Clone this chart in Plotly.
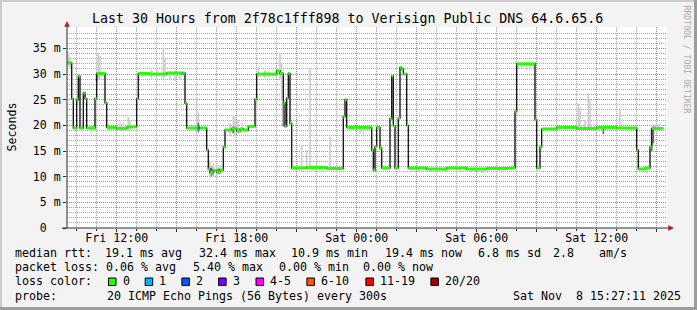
import plotly.graph_objects as go
import pandas as pd

# ---------------- data ----------------
title_text = "Last 30 Hours from 2f78c1fff898 to Verisign Public DNS 64.6.65.6"
x_start = "2025-11-07 09:31"
x_end = "2025-11-08 15:31"

# median RTT (ms), change points of the 5-minute samples
median_times = [
    "2025-11-07 09:31", "2025-11-07 09:45", "2025-11-07 09:50", "2025-11-07 10:00",
    "2025-11-07 10:05", "2025-11-07 10:10", "2025-11-07 10:20", "2025-11-07 10:25",
    "2025-11-07 10:30", "2025-11-07 10:55", "2025-11-07 11:00", "2025-11-07 11:25",
    "2025-11-07 11:30", "2025-11-07 12:00", "2025-11-07 12:30", "2025-11-07 13:00",
    "2025-11-07 13:05", "2025-11-07 13:40", "2025-11-07 14:30", "2025-11-07 15:25",
    "2025-11-07 15:30", "2025-11-07 16:30", "2025-11-07 16:35", "2025-11-07 16:40",
    "2025-11-07 16:50", "2025-11-07 17:00", "2025-11-07 17:10", "2025-11-07 17:20",
    "2025-11-07 17:25", "2025-11-07 17:45", "2025-11-07 18:00", "2025-11-07 18:10",
    "2025-11-07 18:20", "2025-11-07 18:35", "2025-11-07 18:55", "2025-11-07 19:00",
    "2025-11-07 20:00", "2025-11-07 20:10", "2025-11-07 20:20", "2025-11-07 20:25",
    "2025-11-07 20:30", "2025-11-07 20:35", "2025-11-07 20:40", "2025-11-07 20:45",
    "2025-11-07 21:30", "2025-11-07 22:30", "2025-11-07 23:20", "2025-11-07 23:25",
    "2025-11-07 23:30", "2025-11-08 00:45", "2025-11-08 00:50", "2025-11-08 00:55",
    "2025-11-08 01:00", "2025-11-08 01:10", "2025-11-08 01:15", "2025-11-08 01:40",
    "2025-11-08 01:45", "2025-11-08 01:50", "2025-11-08 01:55", "2025-11-08 02:05",
    "2025-11-08 02:10", "2025-11-08 02:15", "2025-11-08 02:20", "2025-11-08 02:30",
    "2025-11-08 02:35", "2025-11-08 03:30", "2025-11-08 04:30", "2025-11-08 05:30",
    "2025-11-08 06:30", "2025-11-08 07:30", "2025-11-08 07:55", "2025-11-08 08:00",
    "2025-11-08 08:55", "2025-11-08 09:00", "2025-11-08 09:10", "2025-11-08 09:15",
    "2025-11-08 10:00", "2025-11-08 11:00", "2025-11-08 12:00", "2025-11-08 13:00",
    "2025-11-08 14:00", "2025-11-08 14:05", "2025-11-08 14:25", "2025-11-08 14:40",
    "2025-11-08 14:45", "2025-11-08 15:20",
]
median_ms = [
    32.2, 25.2, 19.5, 25.0,
    29.6, 19.5, 26.3, 25.2,
    19.5, 25.2, 30.1, 24.4,
    19.6, 19.4, 19.7, 25.2,
    30.1, 30.0, 30.2, 24.3,
    19.5, 15.2, 11.5, 10.8,
    11.2, 10.9, 11.3, 15.8,
    19.1, 19.4, 18.9, 19.3,
    19.1, 19.8, 25.1, 30.0,
    30.6, 30.1, 24.4, 19.8,
    25.3, 30.1, 20.4, 11.7,
    11.8, 11.6, 21.7, 25.0,
    19.6, 15.2, 11.3, 15.9,
    19.6, 15.6, 11.7, 21.3,
    29.6, 19.9, 11.7, 21.4,
    31.3, 31.0, 30.0, 20.0,
    11.7, 11.5, 11.7, 11.5,
    11.6, 11.7, 22.7, 32.0,
    21.1, 11.7, 15.8, 19.3,
    19.6, 19.4, 19.6, 19.5,
    15.2, 11.5, 11.7, 15.8,
    19.4, 19.4,
]

# samples with packet loss (loss level index into loss legend)
loss_times = ["2025-11-07 15:15", "2025-11-07 16:00", "2025-11-07 16:05"]
loss_ms = [30.1, 19.5, 19.5]
loss_level = [1, 1, 2]

# smoke (spread of the 20 pings), light shade
smoke_times = [
    "2025-11-07 09:31", "2025-11-07 09:36", "2025-11-07 09:41", "2025-11-07 10:00",
    "2025-11-07 10:15", "2025-11-07 10:45", "2025-11-07 11:00", "2025-11-07 11:05",
    "2025-11-07 11:10", "2025-11-07 11:35", "2025-11-07 12:10", "2025-11-07 12:20",
    "2025-11-07 12:35", "2025-11-07 12:40", "2025-11-07 13:45", "2025-11-07 14:00",
    "2025-11-07 14:20", "2025-11-07 14:25", "2025-11-07 14:40", "2025-11-07 14:55",
    "2025-11-07 15:10", "2025-11-07 16:00", "2025-11-07 16:05", "2025-11-07 16:40",
    "2025-11-07 16:50", "2025-11-07 17:00", "2025-11-07 17:10", "2025-11-07 17:40",
    "2025-11-07 17:50", "2025-11-07 17:55", "2025-11-07 18:05", "2025-11-07 18:15",
    "2025-11-07 19:05", "2025-11-07 19:25", "2025-11-07 19:35", "2025-11-07 20:10",
    "2025-11-07 20:15", "2025-11-07 21:15", "2025-11-07 21:30", "2025-11-07 21:40",
    "2025-11-07 22:40", "2025-11-07 21:50", "2025-11-07 22:15", "2025-11-07 23:00",
    "2025-11-08 00:10", "2025-11-08 00:20", "2025-11-08 02:45", "2025-11-08 03:05",
    "2025-11-08 04:20", "2025-11-08 05:10", "2025-11-08 05:50", "2025-11-08 06:20",
    "2025-11-08 07:10", "2025-11-08 08:05", "2025-11-08 08:15", "2025-11-08 08:30",
    "2025-11-08 08:40", "2025-11-08 08:50", "2025-11-08 09:00", "2025-11-08 11:05",
    "2025-11-08 11:10", "2025-11-08 11:25", "2025-11-08 11:35", "2025-11-08 11:40",
    "2025-11-08 12:00", "2025-11-08 13:10", "2025-11-08 14:30", "2025-11-08 14:55",
    "2025-11-08 15:05",
]
smoke_lo = [
    31.5, 31.6, 31.0, 24.0,
    18.8, 18.6, 28.5, 28.8,
    29.0, 18.8, 18.8, 19.0,
    18.8, 19.0, 29.2, 28.7,
    29.0, 29.5, 29.0, 28.6,
    28.8, 19.0, 18.5, 9.8,
    10.0, 10.2, 10.5, 18.0,
    18.2, 17.8, 18.3, 18.4,
    29.4, 29.2, 29.4, 29.0,
    25.0, 11.3, 11.3, 11.5,
    11.5, 10.9, 10.8, 10.9,
    18.3, 18.2, 10.8, 10.9,
    10.8, 10.8, 10.9, 10.7,
    10.9, 31.0, 31.2, 30.9,
    31.1, 31.3, 10.9, 19.3,
    19.3, 19.3, 19.2, 19.3,
    18.5, 19.3, 10.6, 18.8,
    19.0,
]
smoke_hi = [
    34.4, 33.8, 33.0, 26.5,
    20.2, 20.0, 33.0, 34.1,
    33.5, 20.3, 20.6, 20.5,
    21.7, 21.0, 30.8, 31.0,
    35.0, 33.0, 30.6, 30.7,
    30.5, 25.6, 22.5, 12.8,
    12.5, 12.0, 12.2, 20.5,
    22.0, 21.5, 21.0, 20.5,
    31.4, 30.8, 30.6, 34.0,
    32.0, 16.2, 15.2, 31.1,
    17.8, 11.8, 11.8, 11.8,
    19.8, 19.7, 11.7, 11.8,
    11.7, 11.7, 11.8, 11.7,
    11.7, 32.0, 32.0, 32.0,
    32.0, 32.0, 11.8, 24.3,
    23.5, 21.1, 26.3, 25.0,
    20.8, 23.0, 11.6, 20.2,
    20.2,
]

# smoke, dark shade (most pings)
dsmoke_times = [
    "2025-11-07 11:00", "2025-11-07 16:05", "2025-11-07 16:45", "2025-11-07 17:05",
    "2025-11-07 17:50", "2025-11-07 20:20", "2025-11-08 12:20", "2025-11-08 14:45",
    "2025-11-08 14:50",
]
dsmoke_lo = [28.6, 18.8, 10.2, 10.5, 18.5, 19.8, 18.3, 15.0, 16.5]
dsmoke_hi = [30.0, 20.5, 11.8, 11.6, 19.8, 24.4, 19.6, 19.4, 19.8]

# axis ticks
y_tickvals = [0, 5, 10, 15, 20, 25, 30, 35]
y_ticktext = ["0\u00a0\u00a0", "5\u00a0m", "10\u00a0m", "15\u00a0m", "20\u00a0m",
              "25\u00a0m", "30\u00a0m", "35\u00a0m"]
x_tickvals = [
    "2025-11-07 12:00", "2025-11-07 15:00", "2025-11-07 18:00", "2025-11-07 21:00",
    "2025-11-08 00:00", "2025-11-08 03:00", "2025-11-08 06:00", "2025-11-08 09:00",
    "2025-11-08 12:00", "2025-11-08 15:00",
]
x_ticktext = ["Fri 12:00", "", "Fri 18:00", "", "Sat 00:00", "", "Sat 06:00", "",
              "Sat 12:00", ""]

# legend text
rtt_label = "median rtt:"
rtt_stats = ["19.1 ms avg", "32.4 ms max", "10.9 ms min", "19.4 ms now", "6.8 ms sd",
             "2.8", "am/s"]
loss_label = "packet loss:"
loss_stats = ["0.06 % avg", "5.40 % max", "0.00 % min", "0.00 % now"]
loss_color_label = "loss color:"
loss_names = ["0", "1", "2", "3", "4-5", "6-10", "11-19", "20/20"]
probe_label = "probe:"
probe_text = "20 ICMP Echo Pings (56 Bytes) every 300s"
date_text = "Sat Nov  8 15:27:11 2025"
y_title = "Seconds"
watermark = "RRDTOOL / TOBI OETIKER"

# ---------------- styles / layout ----------------
W, H = 697, 310
L, R, T, B = 67, 30, 27, 82
PW = W - L - R
PH = H - T - B
Y_MAX = 39.17
MONO = "DejaVu Sans Mono"
FS = 11.63
loss_colors = ["#26ff00", "#00b8ff", "#0059ff", "#7e00ff", "#ff00ff", "#ff5500",
               "#ff0000", "#a10000"]
AXIS_C = "#2c2c2c"
ARROW_C = "#b02020"
GRID_GRAY = "#a6a6a6"
GRID_RED = "#e86a6a"
DASH = "1px,1px"


def px(x):
    return (x - L) / PW


def py(y):
    return (H - B - y) / PH


def nb(s):
    return s.replace(" ", "\u00a0")


SAMPLE_MS = 300000

fig = go.Figure()

# smoke
fig.add_trace(go.Bar(
    x=smoke_times, base=smoke_lo, y=[h - l for h, l in zip(smoke_hi, smoke_lo)],
    width=SAMPLE_MS, marker=dict(color="#cdcdcd", line=dict(width=0)),
    hoverinfo="skip", showlegend=False))
fig.add_trace(go.Bar(
    x=dsmoke_times, base=dsmoke_lo, y=[h - l for h, l in zip(dsmoke_hi, dsmoke_lo)],
    width=SAMPLE_MS, marker=dict(color="#6a6a6a", line=dict(width=0)),
    hoverinfo="skip", showlegend=False))

# median step line (black connectors)
fig.add_trace(go.Scatter(
    x=median_times, y=median_ms, mode="lines", line=dict(color="#1a1a1a", width=1.4, shape="hv"),
    hoverinfo="skip", showlegend=False))

# green horizontal pieces (loss 0)
gx, gy = [], []
for i in range(len(median_times) - 1):
    gx += [median_times[i], median_times[i + 1], None]
    gy += [median_ms[i], median_ms[i], None]
fig.add_trace(go.Scatter(
    x=gx, y=gy, mode="lines", line=dict(color=loss_colors[0], width=3),
    hoverinfo="skip", showlegend=False))

# loss-colored samples
for t, v, lv in zip(loss_times, loss_ms, loss_level):
    t0 = pd.Timestamp(t)
    fig.add_trace(go.Scatter(
        x=[t0, t0 + pd.Timedelta(milliseconds=SAMPLE_MS)], y=[v, v], mode="lines",
        line=dict(color=loss_colors[lv], width=3), hoverinfo="skip", showlegend=False))

ann = []
# title
ann.append(dict(text=nb(title_text), x=px(91.5), y=py(19), xanchor="left", yanchor="middle",
                font=dict(family=MONO, size=13.27, color="#000")))
# y title
ann.append(dict(text=y_title, x=px(11.5), y=py(127), xanchor="center", yanchor="middle",
                textangle=-90, font=dict(family=MONO, size=FS, color="#000")))
# watermark
ann.append(dict(text=nb(watermark), x=px(686.5), y=py(59), xanchor="center", yanchor="middle",
                textangle=90, font=dict(family=MONO, size=8.17, color="#aaaaaa")))

ROWS = [253, 267.2, 281.3, 295.5]
row1_x = [105.4, 199.2, 291.4, 385.2, 477.6, 552.6, 599.3]
row2_x = [106.1, 192.6, 278.7, 363.4]
box_x = [108.5, 145.2, 181.9, 218.6, 256.0, 306.9, 365.9, 430.9]


def label(text, x, y, anchor="left"):
    ann.append(dict(text=nb(text), x=px(x), y=py(y), xanchor=anchor, yanchor="middle",
                    font=dict(family=MONO, size=FS, color="#000")))


label(rtt_label, 15.4, ROWS[0])
for s, x in zip(rtt_stats, row1_x):
    label(s, x, ROWS[0])
label(loss_label, 15.4, ROWS[1])
for s, x in zip(loss_stats, row2_x):
    label(s, x, ROWS[1])
label(loss_color_label, 15.4, ROWS[2])
for s, x in zip(loss_names, box_x):
    label(s, x + 14.0, ROWS[2])
label(probe_label, 15.4, ROWS[3])
label(probe_text, 106.5, ROWS[3])
label(date_text, 680.6, ROWS[3], anchor="right")

for a in ann:
    a.update(xref="paper", yref="paper", showarrow=False, borderpad=0, borderwidth=0)

shapes = []
# loss color boxes
for x, c in zip(box_x, loss_colors):
    shapes.append(dict(type="rect", xref="paper", yref="paper",
                       x0=px(x), x1=px(x + 7.5), y0=py(278.0), y1=py(285.5),
                       fillcolor=c, line=dict(color="#000", width=1)))
# axis lines and arrows
shapes.append(dict(type="line", xref="paper", yref="paper", x0=px(67), x1=px(67),
                   y0=py(228), y1=py(25), line=dict(color=AXIS_C, width=1)))
shapes.append(dict(type="path", xref="paper", yref="paper",
                   path=f"M {px(64.5)} {py(26.5)} L {px(69.5)} {py(26.5)} L {px(67)} {py(21.5)} Z",
                   fillcolor=ARROW_C, line=dict(color=ARROW_C, width=0.5)))
shapes.append(dict(type="line", xref="paper", yref="paper", x0=px(62), x1=px(669),
                   y0=py(228), y1=py(228), line=dict(color=AXIS_C, width=1)))
shapes.append(dict(type="path", xref="paper", yref="paper",
                   path=f"M {px(668.5)} {py(225.5)} L {px(668.5)} {py(230.5)} L {px(673.5)} {py(228)} Z",
                   fillcolor=ARROW_C, line=dict(color=ARROW_C, width=0.5)))
# frame
shapes.append(dict(type="rect", xref="paper", yref="paper", x0=px(0), x1=px(697),
                   y0=py(0), y1=py(2), fillcolor="#cbcbcb", line=dict(width=0)))
shapes.append(dict(type="rect", xref="paper", yref="paper", x0=px(0), x1=px(2),
                   y0=py(0), y1=py(310), fillcolor="#cbcbcb", line=dict(width=0)))
shapes.append(dict(type="rect", xref="paper", yref="paper", x0=px(694), x1=px(697),
                   y0=py(0), y1=py(310), fillcolor="#9c9c9c", line=dict(width=0)))
shapes.append(dict(type="rect", xref="paper", yref="paper", x0=px(0), x1=px(697),
                   y0=py(307), y1=py(310), fillcolor="#9c9c9c", line=dict(width=0)))

fig.update_layout(
    width=W, height=H, margin=dict(l=L, r=R, t=T, b=B, pad=0),
    paper_bgcolor="#f3f3f3", plot_bgcolor="#ffffff",
    barmode="overlay", showlegend=False,
    font=dict(family=MONO, size=FS, color="#000"),
    annotations=ann, shapes=shapes,
    xaxis=dict(
        type="date", range=[x_start, x_end], tickmode="array",
        tickvals=x_tickvals, ticktext=x_ticktext,
        showgrid=True, gridcolor=GRID_RED, griddash=DASH, gridwidth=1,
        zeroline=False, showline=False,
        ticks="outside", ticklen=3, tickcolor=AXIS_C, ticklabelstandoff=-4,
        tickfont=dict(family=MONO, size=FS, color="#000"),
        minor=dict(dtick=3600000, tick0="2025-11-07 00:00", showgrid=True,
                   gridcolor=GRID_GRAY, griddash=DASH, ticks="outside", ticklen=2,
                   tickcolor=AXIS_C),
        fixedrange=True,
    ),
    yaxis=dict(
        range=[0, Y_MAX], tickmode="array", tickvals=y_tickvals, ticktext=y_ticktext,
        showgrid=True, gridcolor=GRID_RED, griddash=DASH, gridwidth=1,
        zeroline=False, showline=False,
        ticks="outside", ticklen=3, tickcolor=AXIS_C,
        tickfont=dict(family=MONO, size=FS, color="#000"),
        minor=dict(dtick=1, tick0=0, showgrid=True, gridcolor=GRID_GRAY, griddash=DASH),
        fixedrange=True,
    ),
)

fig.write_html("out.html", config={"displayModeBar": False, "staticPlot": True})
